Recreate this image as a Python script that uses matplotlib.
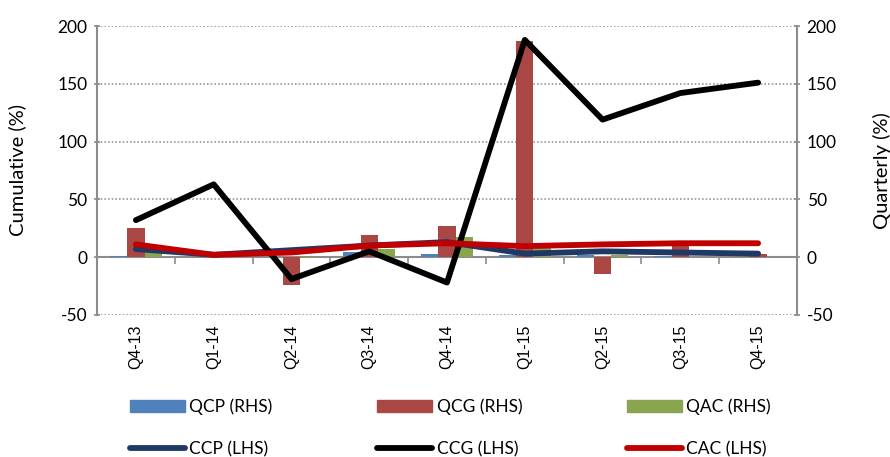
import numpy as np
import matplotlib
matplotlib.use("Agg")
import matplotlib.pyplot as plt
from matplotlib.patches import Patch
from matplotlib.lines import Line2D

plt.rcParams['font.family'] = ['Lato', 'DejaVu Sans']
plt.rcParams['axes.unicode_minus'] = False

quarters = ['Q4-13', 'Q1-14', 'Q2-14', 'Q3-14', 'Q4-14', 'Q1-15', 'Q2-15', 'Q3-15', 'Q4-15']

# quarterly (RHS) bars
qcp = [1, 0.5, 0.5, 4, 3, 2, 2, 1, 0.5]
qcg = [25, 0, -24, 19, 27, 187, -15, 10, 3]
qac = [7, 0, -1, 7, 17, 8, 2, 0.5, 0.5]

# cumulative (LHS) lines
ccp = [7, 2, 6, 10, 13, 3, 5, 4, 3]
ccg = [32, 63, -19, 5, -22, 188, 119, 142, 151]
cac = [11, 2, 4, 10, 12, 9.5, 11, 12, 12]

grey = '#8c8c8c'
x = np.arange(len(quarters))
w = 0.222

fig = plt.figure(figsize=(8.9, 4.57), dpi=100)
ax = fig.add_axes([0.109, 0.311, 0.7865, 0.632])
axr = ax.twinx()
ax.set_zorder(2)
ax.patch.set_visible(False)
axr.set_zorder(1)

# bars on the right axis
axr.bar(x - w, qcp, w, color='#4F81BD')
axr.bar(x, qcg, w, color='#AA4643')
axr.bar(x + w, qac, w, color='#89A54E')

# lines on the left axis
lw = 4.2
ax.plot(x, ccp, color='#1F3864', lw=lw, solid_capstyle='round')
ax.plot(x, ccg, color='black', lw=lw, solid_capstyle='round')
ax.plot(x, cac, color='#C00000', lw=lw, solid_capstyle='round')

yt = [-50, 0, 50, 100, 150, 200]
for a in (ax, axr):
    a.set_ylim(-50, 200)
    a.set_yticks(yt)
    a.set_xlim(-0.5, len(quarters) - 0.5)
    for s in a.spines.values():
        s.set_visible(False)
    a.tick_params(axis='y', colors=grey, labelcolor='black', labelsize=12.5,
                  length=4, width=1.2, direction='inout', pad=5)

for v in [-50, 50, 100, 150, 200]:
    axr.axhline(v, color='#999999', lw=1.2, ls=(0, (1, 1.2)), zorder=0)

ax.spines['left'].set_visible(True)
ax.spines['left'].set_color(grey)
ax.spines['left'].set_linewidth(1.5)
axr.spines['right'].set_visible(True)
axr.spines['right'].set_color(grey)
axr.spines['right'].set_linewidth(1.5)

# category labels at the bottom
ax.set_xticks(x)
ax.set_xticklabels(quarters, rotation=90, fontsize=11.5, family='Liberation Sans')
ax.tick_params(axis='x', length=0, pad=7)

# zero axis line with boundary ticks
zero_ax = axr.secondary_xaxis(50 / 250)
zero_ax.spines['bottom'].set_color(grey)
zero_ax.spines['bottom'].set_linewidth(1.5)
zero_ax.set_xticks(np.arange(len(quarters) + 1) - 0.5)
zero_ax.set_xticklabels([])
zero_ax.tick_params(axis='x', colors=grey, length=5, width=1.2, direction='out')

ax.set_ylabel('Cumulative (%)', fontsize=14.5, labelpad=22)
axr.set_ylabel('Quarterly (%)', fontsize=14.5, labelpad=26)

handles = [
    Patch(color='#4F81BD', label='QCP (RHS)'),
    Line2D([], [], color='#1F3864', lw=lw, solid_capstyle='round', label='CCP (LHS)'),
    Patch(color='#AA4643', label='QCG (RHS)'),
    Line2D([], [], color='black', lw=lw, solid_capstyle='round', label='CCG (LHS)'),
    Patch(color='#89A54E', label='QAC (RHS)'),
    Line2D([], [], color='#C00000', lw=lw, solid_capstyle='round', label='CAC (LHS)'),
]
fig.legend(handles=handles, ncol=3, loc='lower left', bbox_to_anchor=(0.128, -0.035),
           frameon=False, fontsize=12.5, handlelength=3.2, handleheight=0.7,
           handletextpad=0.25, columnspacing=6.0, labelspacing=1.5)

fig.savefig('out.png', dpi=100)
